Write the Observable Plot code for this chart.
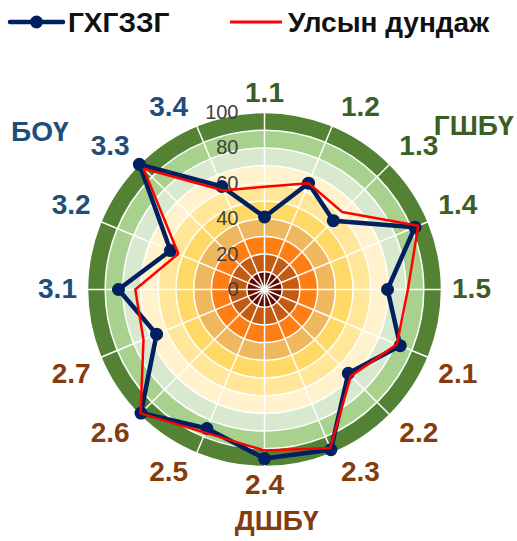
<!DOCTYPE html>
<html>
<head>
<meta charset="utf-8">
<script src="https://cdn.jsdelivr.net/npm/d3@7"></script>
<script src="https://cdn.jsdelivr.net/npm/@observablehq/plot@0.6"></script>
<style>
  html, body { margin: 0; padding: 0; background: #fff; }
  body { width: 517px; height: 541px; overflow: hidden; font-family: "Liberation Sans", Arial, sans-serif; }
  #legend { display: block; }
  #chart svg { display: block; }
</style>
</head>
<body>
<svg id="legend" width="517" height="44"></svg>
<div id="chart"></div>
<script>
// ---- data ----
const categories = ["1.1","1.2","1.3","1.4","1.5","2.1","2.2","2.3","2.4","2.5","2.6","2.7","3.1","3.2","3.3","3.4"];
const ghgzzg   = [41, 65, 55, 92, 69.5, 83, 67, 98, 95.5, 85, 98.7, 66, 82.5, 57.5, 100, 63];
const national = [58, 65, 62, 94, 81, 81, 69, 97, 91, 87.5, 99, 74, 73, 52.7, 96.7, 60.5];
const seriesNames = ["ГХГЗЗГ", "Улсын дундаж"];
const groupNames = ["ГШБҮ", "ДШБҮ", "БОҮ"];
const groupAngles = [52, 177, -55];      // degrees, clockwise from top
const groupRadii = [150, 131, 155];       // value units
const ticks = [0, 20, 40, 60, 80, 100];
const bandEdges = [10, 20, 30, 40, 50, 60, 70, 80, 90, 100];

// ---- styles ----
const bandColors = ["#600b00","#c55a11","#fd7e14","#efb85e","#ffd966","#ffe699","#fff2cc","#d8e9cf","#a9d18e","#548235"];
const groupColors = ["#3b5e26", "#843c0c", "#1f4e79"];
const seriesColors = ["#002060", "#ff0000"];

// ---- geometry ----
const W = 517, H = 497, k = 1.77, cx = 264, cy = 245;
const n = categories.length;
const ang = i => (i * 2 * Math.PI) / n;
const groupOf = c => +c.split(".")[0] - 1;

const bands = bandEdges.map((e, i) => ({edge: e, color: bandColors[i]})).reverse();
const pts = vals => vals.map((v, i) => ({cat: categories[i], x: v * Math.sin(ang(i)), y: v * Math.cos(ang(i))}));
const blue = pts(ghgzzg);
const red = pts(national);

// label box placed just outside the plot circle (px offsets converted to units)
const sgn = v => (Math.abs(v) < 1e-6 ? 0 : Math.sign(v));
const catLabels = categories.map((c, i) => {
  const s = Math.sin(ang(i)), co = Math.cos(ang(i));
  return {
    text: c,
    x: (180 * s + 27 * sgn(s)) / k,
    y: (180 * co + 16 * sgn(co)) / k,
    color: groupColors[groupOf(c)]
  };
});
const groupLabels = groupNames.map((g, i) => {
  const a = groupAngles[i] * Math.PI / 180;
  return {text: g, x: groupRadii[i] * Math.sin(a), y: groupRadii[i] * Math.cos(a), color: groupColors[i]};
});

const font = "Liberation Sans, Arial, sans-serif";

const chart = Plot.plot({
  width: W,
  height: H,
  margin: 0,
  style: {fontFamily: font, background: "white"},
  x: {domain: [-cx / k, (W - cx) / k], range: [0, W], axis: null},
  y: {domain: [-(H - cy) / k, cy / k], range: [H, 0], axis: null},
  r: {type: "linear", domain: [0, 100], range: [0, 100 * k]},
  color: {type: "identity"},
  marks: [
    Plot.dot(bands, {x: () => 0, y: () => 0, r: "edge", fill: "color", stroke: "white", strokeWidth: 1.5, sort: null}),
    Plot.link(categories, {
      x1: () => 0, y1: () => 0,
      x2: (d, i) => 100 * Math.sin(ang(i)),
      y2: (d, i) => 100 * Math.cos(ang(i)),
      stroke: "white", strokeWidth: 1.5
    }),
    Plot.text(ticks, {x: () => 0, y: d => d, text: d => String(d), textAnchor: "end", dx: -26, fontSize: 20, fill: "#404040"}),
    Plot.line(blue, {x: "x", y: "y", curve: "linear-closed", stroke: seriesColors[0], strokeWidth: 4.5, strokeLinejoin: "round"}),
    Plot.dot(blue, {x: "x", y: "y", r: 6.5, fill: seriesColors[0], stroke: "none"}),
    Plot.line(red, {x: "x", y: "y", curve: "linear-closed", stroke: seriesColors[1], strokeWidth: 2.5, strokeLinejoin: "miter"}),
    Plot.text(catLabels, {x: "x", y: "y", text: "text", fill: "color", fontSize: 28, fontWeight: "bold"}),
    Plot.text(groupLabels, {x: "x", y: "y", text: "text", fill: "color", fontSize: 28, fontWeight: "bold"})
  ]
});
document.getElementById("chart").appendChild(chart);

// ---- legend ----
const lg = d3.select("#legend");
const items = [
  {name: seriesNames[0], color: seriesColors[0], x: 10, w: 53, tx: 68, dot: true, sw: 4.5},
  {name: seriesNames[1], color: seriesColors[1], x: 230, w: 52, tx: 288, dot: false, sw: 3}
];
for (const it of items) {
  lg.append("line").attr("x1", it.x).attr("x2", it.x + it.w).attr("y1", 22).attr("y2", 22)
    .attr("stroke", it.color).attr("stroke-width", it.sw).attr("stroke-linecap", it.dot ? "round" : "butt");
  if (it.dot) lg.append("circle").attr("cx", it.x + it.w / 2).attr("cy", 22).attr("r", 6.5).attr("fill", it.color);
  lg.append("text").attr("x", it.tx).attr("y", 32).text(it.name)
    .attr("font-family", font).attr("font-size", 28).attr("font-weight", "bold").attr("fill", "#111");
}
</script>
</body>
</html>
